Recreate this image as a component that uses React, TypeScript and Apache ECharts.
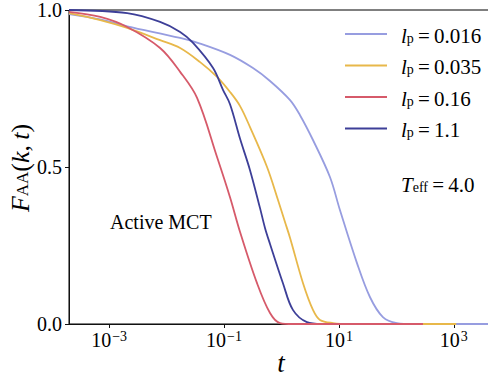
import React, { useEffect, useRef } from 'react';
import * as echarts from 'echarts';

const lpLabels = ['0.016', '0.035', '0.16', '1.1'];
const colors = ['#979de0', '#e8b84a', '#d65a6a', '#3d3f98'];
const xTicks = [1e-3, 1e-1, 1e1, 1e3];

const tPurple = [2.0e-4, 7.0e-4, 2.06e-3, 0.0172, 0.0383, 0.127, 0.319, 0.631, 1.41, 2.1, 3.53, 6.97, 10.4, 20.6, 34.6, 58.2, 102, 200, 5000];
const fPurple = [0.987, 0.97, 0.948, 0.911, 0.893, 0.857, 0.815, 0.774, 0.713, 0.665, 0.586, 0.468, 0.363, 0.194, 0.086, 0.022, 0.003, 0, 0];

const tGold = [2.0e-4, 7.0e-4, 2.06e-3, 7.7e-3, 0.0172, 0.0383, 0.0755, 0.127, 0.19, 0.283, 0.56, 0.869, 1.15, 1.41, 2.37, 3.53, 4.68, 7.87, 15.8, 1100];
const fGold = [0.99, 0.968, 0.943, 0.904, 0.879, 0.834, 0.787, 0.739, 0.694, 0.627, 0.5, 0.395, 0.325, 0.274, 0.13, 0.045, 0.013, 0.003, 0, 0];

const tRed = [2.0e-4, 7.0e-4, 2.06e-3, 7.7e-3, 0.0172, 0.0339, 0.0755, 0.127, 0.19, 0.375, 0.631, 0.942, 1.58, 290];
const fRed = [0.994, 0.978, 0.946, 0.879, 0.803, 0.72, 0.532, 0.404, 0.293, 0.13, 0.035, 0.003, 0, 0];

const tBlue = [2.0e-4, 2.06e-3, 7.7e-3, 0.0172, 0.0289, 0.0644, 0.0962, 0.127, 0.19, 0.283, 0.423, 0.516, 0.631, 1.06, 1.58, 2.77, 5.0, 100];
const fBlue = [1.0, 0.99, 0.962, 0.93, 0.895, 0.815, 0.745, 0.70, 0.59, 0.49, 0.369, 0.306, 0.255, 0.13, 0.045, 0.006, 0, 0];

const seriesT = [tPurple, tGold, tRed, tBlue];
const seriesF = [fPurple, fGold, fRed, fBlue];
// drawing order: purple, gold, blue, red (red on top)
const drawOrder = [0, 1, 3, 2];

const SERIF = 'Liberation Serif';

export default function App() {
  const ref = useRef<HTMLDivElement>(null);
  useEffect(() => {
    if (!ref.current) return;
    const chart = echarts.init(ref.current, undefined, { renderer: 'svg' });
    const series = drawOrder.map((i) => ({
      type: 'line',
      name: lpLabels[i],
      data: seriesT[i].map((t, k) => [t, seriesF[i][k]]),
      showSymbol: false,
      symbol: 'none',
      smooth: 0.35,
      lineStyle: { color: colors[i], width: 1.8 },
      itemStyle: { color: colors[i] },
      emphasis: { disabled: true },
      clip: true,
    }));
    const supFmt = (v: number) => {
      const e = Math.round(Math.log10(v));
      return `{b|10}{s|${e < 0 ? '\u2212' + -e : e}}`;
    };
    chart.setOption({
      animation: false,
      backgroundColor: '#ffffff',
      grid: {
        left: 69, top: 10, right: 6, bottom: 53,
        containLabel: false, outerBoundsMode: 'none',
        show: true, borderColor: '#000', borderWidth: 1, backgroundColor: 'transparent',
      },
      xAxis: {
        type: 'log',
        logBase: 10,
        min: 2e-4,
        max: 5e3,
        axisLine: { show: true, lineStyle: { color: '#111', width: 1 } },
        axisTick: { show: true, inside: false, length: 4, customValues: xTicks, lineStyle: { color: '#111' } },
        minorTick: { show: false },
        splitLine: { show: false },
        axisLabel: {
          customValues: xTicks,
          margin: 3,
          formatter: supFmt,
          rich: {
            b: { fontFamily: SERIF, fontSize: 20, lineHeight: 20, padding: [3, 0, 0, 0], verticalAlign: 'top', color: '#000' },
            s: { fontFamily: SERIF, fontSize: 14, lineHeight: 14, padding: [2, 0, 0, 1], verticalAlign: 'top', color: '#000' },
          },
        },
      },
      yAxis: {
        type: 'value',
        min: 0,
        max: 1,
        interval: 0.5,
        axisLine: { show: true, lineStyle: { color: '#111', width: 1 } },
        axisTick: { show: true, inside: false, length: 4, lineStyle: { color: '#111' } },
        splitLine: { show: false },
        axisLabel: {
          margin: 7,
          formatter: (v: number) => v.toFixed(1),
          fontFamily: SERIF,
          fontSize: 20,
          lineHeight: 18,
          padding: [1, 0, 0, 0],
          color: '#000',
        },
      },
      legend: {
        data: lpLabels,
        orient: 'vertical',
        left: 340,
        top: 14,
        icon: 'rect',
        itemWidth: 42,
        itemHeight: 2,
        itemGap: 4.5,
        formatter: (name: string) => `{i|l}{s|p}{n|\u2009=\u2009${name}}`,
        textStyle: {
          padding: [0, 0, 0, 9],
          rich: {
            i: { fontFamily: SERIF, fontStyle: 'italic', fontSize: 21, lineHeight: 22, padding: [2, 0, 0, 0], verticalAlign: 'top', color: '#000' },
            n: { fontFamily: SERIF, fontSize: 21, lineHeight: 22, padding: [2, 0, 0, 0], verticalAlign: 'top', color: '#000' },
            s: { fontFamily: SERIF, fontSize: 14, lineHeight: 14, padding: [12, 0, 0, 0], verticalAlign: 'bottom', color: '#000' },
          },
        },
      },
      graphic: [
        {
          type: 'text',
          x: 19,
          y: 168,
          rotation: Math.PI / 2,
          style: {
            text: '{f|F}{a|AA}{n|(}{f|k}{n|,\u2009}{f|t}{n|)}',
            align: 'center',
            verticalAlign: 'middle',
            rich: {
              f: { fontFamily: SERIF, fontStyle: 'italic', fontSize: 26, lineHeight: 24, verticalAlign: 'top', fill: '#000' },
              n: { fontFamily: SERIF, fontSize: 26, lineHeight: 24, verticalAlign: 'top', fill: '#000' },
              a: { fontFamily: SERIF, fontSize: 17, lineHeight: 16, padding: [11, 0, 0, 0], verticalAlign: 'bottom', fill: '#000' },
            },
          },
        },
        {
          type: 'text',
          x: 281,
          y: 363,
          style: { text: 't', align: 'center', verticalAlign: 'middle', fontFamily: SERIF, fontStyle: 'italic', fontSize: 27, fill: '#000' },
        },
        {
          type: 'text',
          left: 110,
          top: 212,
          style: { text: 'Active MCT', fontFamily: SERIF, fontSize: 20, fill: '#000' },
        },
        {
          type: 'text',
          left: 401,
          top: 168,
          style: {
            text: '{t|T}{s|eff}{n|\u2009=\u20094.0}',
            rich: {
              t: { fontFamily: SERIF, fontStyle: 'italic', fontSize: 21, lineHeight: 22, padding: [2, 0, 0, 0], verticalAlign: 'top', fill: '#000' },
              n: { fontFamily: SERIF, fontSize: 21, lineHeight: 22, padding: [2, 0, 0, 0], verticalAlign: 'top', fill: '#000' },
              s: { fontFamily: SERIF, fontSize: 14, lineHeight: 14, padding: [12, 0, 0, 0], verticalAlign: 'bottom', fill: '#000' },
            },
          },
        },
      ],
      series,
    });
    return () => chart.dispose();
  }, []);
  return (
    <div style={{ position: 'fixed', left: 0, top: 0, width: 488, height: 377, overflow: 'hidden', background: '#fff' }}>
      <div ref={ref} style={{ width: 500, height: 377 }} />
    </div>
  );
}
